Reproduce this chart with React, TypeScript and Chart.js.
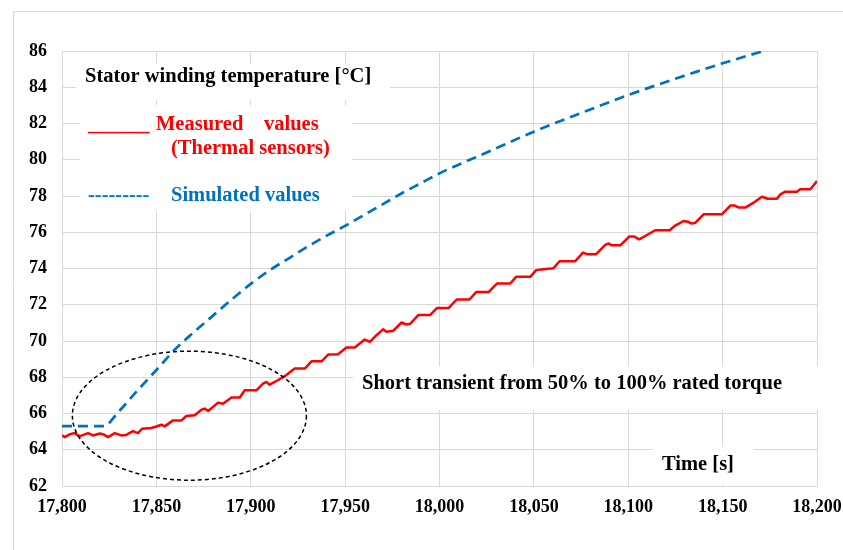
import { useEffect, useRef } from 'react';
import { Chart, registerables } from 'chart.js';

Chart.register(...registerables);

const FONT = '"Liberation Serif", "Times New Roman", serif';

// ---- Data ----
const measuredTime = [
  17800, 17801.5, 17804, 17806.7, 17809.4, 17812, 17813.8, 17816.4, 17820, 17822, 17824.4, 17828, 17831.4, 17834,
  17837.6, 17840.3, 17842.4, 17847.3, 17850, 17852.7, 17854.4, 17858.8, 17863.3, 17865.9, 17870.3, 17873.9, 17875.6,
  17877.4, 17882.7, 17885.3, 17889.8, 17894.2, 17896.8, 17903, 17906.5, 17908.3, 17910, 17912.7, 17918, 17923.3,
  17928.6, 17932.2, 17937.5, 17941, 17946.3, 17950.7, 17955.1, 17960.4, 17963.1, 17966.6, 17970.1, 17971.9, 17975.4,
  17979.9, 17982.5, 17984.5, 17988.7, 17995, 17998.6, 18004.8, 18009.2, 18015.9, 18019.4, 18026, 18030.4, 18037.5,
  18040.6, 18048.1, 18051.2, 18055.1, 18060.4, 18063.6, 18071.9, 18076, 18078.1, 18083, 18087.8, 18089.6, 18091.3,
  18095.8, 18100.5, 18103.2, 18105.8, 18109.9, 18114.3, 18121.9, 18124.9, 18129.3, 18131.5, 18133.7, 18135.5,
  18139.9, 18149.6, 18154.1, 18156.5, 18158.5, 18162, 18167.3, 18170.8, 18173.9, 18178.8, 18180.6, 18183.2, 18189.4,
  18191.1, 18196.5, 18200,
];
const measuredTemp = [
  64.79, 64.7, 64.85, 64.92, 64.74, 64.85, 64.92, 64.79, 64.9, 64.85, 64.7, 64.92, 64.79, 64.82,
  65.03, 64.92, 65.16, 65.2, 65.28, 65.38, 65.29, 65.62, 65.62, 65.86, 65.9, 66.21, 66.27,
  66.14, 66.6, 66.54, 66.88, 66.88, 67.28, 67.28, 67.65, 67.74, 67.59, 67.74, 68.06, 68.48,
  68.48, 68.88, 68.88, 69.25, 69.27, 69.64, 69.64, 70.08, 69.95, 70.32, 70.64, 70.51, 70.56,
  71.02, 70.91, 70.95, 71.43, 71.43, 71.82, 71.82, 72.29, 72.29, 72.7, 72.7, 73.17, 73.17,
  73.54, 73.54, 73.91, 73.96, 74.02, 74.4, 74.4, 74.88, 74.79, 74.79, 75.3, 75.38, 75.28,
  75.28, 75.76, 75.76, 75.61, 75.85, 76.11, 76.11, 76.37, 76.62, 76.58, 76.48, 76.52,
  76.99, 76.99, 77.47, 77.47, 77.36, 77.36, 77.69, 77.96, 77.85, 77.85, 78.09, 78.24, 78.24,
  78.37, 78.37, 78.83,
];

const simulatedTime = [
  17800, 17822, 17830, 17840, 17850, 17860, 17870, 17880, 17890, 17900, 17910, 17920, 17930, 17940, 17950,
  17960, 17970, 17980, 17990, 18000, 18025, 18050, 18075, 18100, 18125, 18150, 18175, 18200,
];
const simulatedTemp = [
  65.3, 65.3, 66.1, 67.27, 68.4, 69.55, 70.5, 71.4, 72.3, 73.15, 73.9, 74.55, 75.2, 75.8, 76.35,
  76.95, 77.55, 78.15, 78.7, 79.25, 80.4, 81.55, 82.58, 83.57, 84.47, 85.32, 86.1, 86.85,
];

const xMin = 17800;
const xMax = 18200;
const xStep = 50;
const yMin = 62;
const yMax = 86;
const yStep = 2;

// Highlight ellipse (data units)
const ellipseCenterTime = 17867.5;
const ellipseCenterTemp = 65.88;
const ellipseHalfTime = 62;
const ellipseHalfTemp = 3.56;

const titleText = 'Stator winding temperature [°C]';
const measuredMarker = '______';
const measuredLabel1 = 'Measured';
const measuredLabel2 = 'values';
const measuredLabel3 = '(Thermal sensors)';
const simulatedMarker = '---------';
const simulatedLabel = 'Simulated values';
const noteText = 'Short transient from 50% to 100% rated torque';
const xTitle = 'Time [s]';

const RED = '#FF0000';
const BLUE = '#0070C0';
const GRID = '#d9d9d9';

function withCommas(v: number): string {
  const s = String(Math.round(v));
  return s.replace(/\B(?=(\d{3})+(?!\d))/g, ',');
}

const decorPlugin = {
  id: 'decor',
  beforeDraw(chart: any) {
    const ctx = chart.ctx;
    ctx.save();
    ctx.fillStyle = '#ffffff';
    ctx.fillRect(0, 0, chart.width, chart.height);
    ctx.strokeStyle = GRID;
    ctx.lineWidth = 1;
    ctx.beginPath();
    ctx.moveTo(13.5, chart.height);
    ctx.lineTo(13.5, 11.5);
    ctx.lineTo(chart.width, 11.5);
    ctx.stroke();
    ctx.restore();
  },
  beforeDatasetsDraw(chart: any) {
    const ctx = chart.ctx;
    ctx.save();
    ctx.fillStyle = '#ffffff';
    ctx.fillRect(76, 64, 314, 36);
    ctx.fillRect(80, 105, 272, 106);
    ctx.fillRect(353, 366, 466, 44);
    ctx.fillRect(653, 446, 101, 38);

    ctx.textBaseline = 'alphabetic';
    ctx.textAlign = 'left';
    ctx.font = `bold 20.5px ${FONT}`;
    ctx.fillStyle = '#000000';
    ctx.fillText(titleText, 85, 82);

    ctx.fillStyle = RED;
    ctx.fillText(measuredMarker, 88, 130);
    ctx.fillText(measuredLabel1, 156, 130);
    ctx.fillText(measuredLabel2, 264, 130);
    ctx.fillText(measuredLabel3, 171, 154);

    ctx.fillStyle = BLUE;
    ctx.fillText(simulatedMarker, 88, 201);
    ctx.fillText(simulatedLabel, 171, 201);

    ctx.fillStyle = '#000000';
    ctx.fillText(noteText, 362, 389);
    ctx.fillText(xTitle, 662, 470);
    ctx.restore();
  },
  afterDatasetsDraw(chart: any) {
    const ctx = chart.ctx;
    const xs = chart.scales.x;
    const ys = chart.scales.y;
    const cx = xs.getPixelForValue(ellipseCenterTime);
    const cy = ys.getPixelForValue(ellipseCenterTemp);
    const rx = xs.getPixelForValue(ellipseCenterTime + ellipseHalfTime) - cx;
    const ry = cy - ys.getPixelForValue(ellipseCenterTemp + ellipseHalfTemp);
    ctx.save();
    ctx.strokeStyle = '#000000';
    ctx.lineWidth = 1.5;
    ctx.setLineDash([4, 3]);
    ctx.beginPath();
    ctx.ellipse(cx, cy, rx, ry, 0, 0, Math.PI * 2);
    ctx.stroke();
    ctx.restore();
  },
};

export default function App() {
  const ref = useRef<HTMLCanvasElement>(null);

  useEffect(() => {
    const canvas = ref.current;
    if (!canvas) return;
    const measured = measuredTime.map((t, i) => ({ x: t, y: measuredTemp[i] }));
    const simulated = simulatedTime.map((t, i) => ({ x: t, y: simulatedTemp[i] }));
    const tickFont = { family: FONT, size: 18, weight: 'bold' as const };

    const chart = new Chart(canvas, {
      type: 'line',
      data: {
        datasets: [
          {
            label: 'Simulated values',
            data: simulated,
            borderColor: BLUE,
            borderWidth: 2.7,
            borderDash: [10, 6],
            pointRadius: 0,
            fill: false,
            cubicInterpolationMode: 'monotone',
          },
          {
            label: 'Measured values (Thermal sensors)',
            data: measured,
            borderColor: RED,
            borderWidth: 2.5,
            pointRadius: 0,
            fill: false,
            tension: 0,
            borderJoinStyle: 'round',
          },
        ],
      },
      options: {
        animation: false,
        responsive: false,
        maintainAspectRatio: false,
        layout: { padding: { top: 51, right: 26, left: 0, bottom: 0 } },
        plugins: {
          legend: { display: false },
          tooltip: { enabled: false },
        },
        scales: {
          x: {
            type: 'linear',
            min: xMin,
            max: xMax,
            ticks: {
              stepSize: xStep,
              color: '#000000',
              font: tickFont,
              padding: 11,
              maxRotation: 0,
              autoSkip: false,
              callback: (v: any) => withCommas(Number(v)),
            },
            grid: { color: GRID, lineWidth: 1, drawTicks: false },
            border: { color: GRID, width: 1 },
            afterFit: (s: any) => {
              s.height = 64;
              s.paddingLeft = 0;
              s.paddingRight = 0;
            },
          },
          y: {
            type: 'linear',
            min: yMin,
            max: yMax,
            ticks: {
              stepSize: yStep,
              color: '#000000',
              font: tickFont,
              padding: 15,
              autoSkip: false,
            },
            grid: { color: GRID, lineWidth: 1, drawTicks: false },
            border: { color: GRID, width: 1 },
            afterFit: (s: any) => {
              s.width = 62;
              s.paddingTop = 0;
              s.paddingBottom = 0;
            },
          },
        },
      },
      plugins: [decorPlugin],
    } as any);

    return () => chart.destroy();
  }, []);

  return (
    <div style={{ position: 'absolute', left: 0, top: 0, width: 843, height: 550 }}>
      <canvas ref={ref} width={843} height={550} style={{ display: 'block', width: 843, height: 550 }} />
    </div>
  );
}
